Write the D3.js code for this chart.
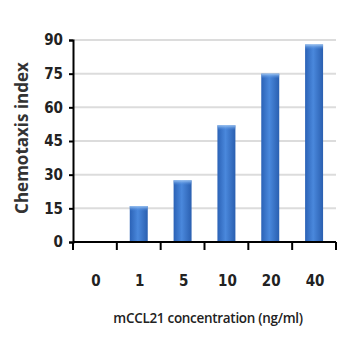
<!DOCTYPE html>
<html><head><meta charset="utf-8">
<script src="https://cdn.jsdelivr.net/npm/d3@7"></script>
<style>body{margin:0;background:#fff}</style>
</head><body>
<svg id="c" width="358" height="358"></svg>
<script>
const categories = ["0","1","5","10","20","40"];
const values = [0, 16, 27.5, 52, 75, 88];
const yTicks = [0,15,30,45,60,75,90];

const svg = d3.select("#c");
const m = {l:73, r:22, t:40, b:116};
const W = 358, H = 358;
const x = d3.scaleBand().domain(categories).range([m.l, W - m.r]).paddingInner(0.59).paddingOuter(0.295);
const xb = d3.scaleBand().domain(categories).range([m.l, W - m.r]);
const y = d3.scaleLinear().domain([0,90]).range([H - m.b, m.t]);

const defs = svg.append("defs");
const g1 = defs.append("linearGradient").attr("id","bg").attr("x1","0").attr("x2","1").attr("y1","0").attr("y2","0");
g1.append("stop").attr("offset","0").attr("stop-color","#2b62b6");
g1.append("stop").attr("offset","0.45").attr("stop-color","#4a88dc");
g1.append("stop").attr("offset","1").attr("stop-color","#2a5fb0");
const g2 = defs.append("linearGradient").attr("id","cap").attr("x1","0").attr("x2","0").attr("y1","0").attr("y2","1");
g2.append("stop").attr("offset","0").attr("stop-color","#9cc4f2");
g2.append("stop").attr("offset","1").attr("stop-color","#4a88dc").attr("stop-opacity","0");

svg.append("g").selectAll("line").data(yTicks.filter(d=>d>0)).join("line")
  .attr("x1", m.l).attr("x2", W - m.r).attr("y1", d=>y(d)).attr("y2", d=>y(d))
  .attr("stroke","#dcdcdc").attr("stroke-width",2);

const bars = svg.append("g");
bars.selectAll("rect.b").data(values.map((v,i)=>({c:categories[i],v}))).join("rect")
  .attr("class","b").attr("x", d=>x(d.c)).attr("width", x.bandwidth())
  .attr("y", d=>y(d.v)).attr("height", d=>y(0)-y(d.v)).attr("fill","url(#bg)");
bars.selectAll("rect.c").data(values.map((v,i)=>({c:categories[i],v})).filter(d=>d.v>0)).join("rect")
  .attr("class","c").attr("x", d=>x(d.c)).attr("width", x.bandwidth())
  .attr("y", d=>y(d.v)).attr("height", 5).attr("fill","url(#cap)");

const font = "'Liberation Sans Narrow','DejaVu Sans Condensed','Open Sans',sans-serif";

const ya = svg.append("g").attr("transform",`translate(${m.l},0)`)
  .call(d3.axisLeft(y).tickValues(yTicks).tickSize(4).tickPadding(6));
ya.select(".domain").attr("stroke","#000").attr("stroke-width",2);
ya.selectAll(".tick line").attr("stroke","#000").attr("stroke-width",2);
ya.selectAll("text").attr("font-family",font).attr("font-size",15).attr("font-weight","bold").attr("fill","#222");

const xa = svg.append("g").attr("transform",`translate(0,${y(0)})`);
xa.append("line").attr("x1",m.l).attr("x2",W-m.r).attr("stroke","#000").attr("stroke-width",2);
const edges = categories.map(c=>xb(c)).concat([W-m.r]);
xa.selectAll("line.t").data(edges).join("line").attr("class","t")
  .attr("x1",d=>d).attr("x2",d=>d).attr("y1",0).attr("y2",8).attr("stroke","#000").attr("stroke-width",2);
xa.selectAll("text").data(categories).join("text")
  .attr("x", d=>xb(d)+xb.bandwidth()/2 + 1).attr("y", 44).attr("text-anchor","middle")
  .attr("font-family",font).attr("font-size",15).attr("font-weight","bold").attr("fill","#222").text(d=>d);

svg.append("text").attr("x",208).attr("y",323).attr("text-anchor","middle")
  .attr("font-family","'Open Sans',sans-serif").attr("font-size",13.5).attr("fill","#222").attr("font-weight",600)
  .attr("letter-spacing",-0.3)
  .text("mCCL21  concentration (ng/ml)");
svg.append("text").attr("transform","translate(28,138) rotate(-90)").attr("text-anchor","middle")
  .attr("font-family","'Open Sans','DejaVu Sans',sans-serif").attr("font-size",17).attr("font-weight","bold").attr("fill","#333")
  .text("Chemotaxis index");
</script>
</body></html>
